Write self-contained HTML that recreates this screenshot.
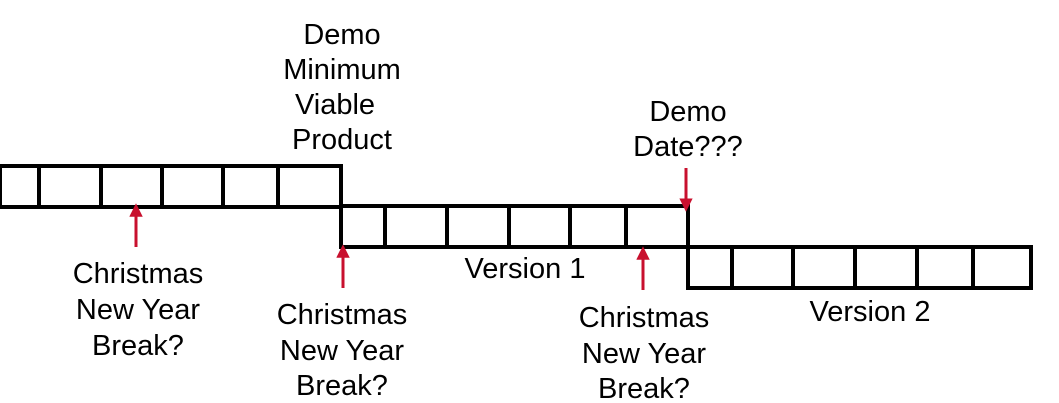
<!DOCTYPE html>
<html><head><meta charset="utf-8"><style>
html,body{margin:0;padding:0;background:#fff;}
svg{display:block;}
text{font-family:"Liberation Sans",Arial,sans-serif;font-size:29px;fill:#000;text-anchor:middle;}
</style></head><body>
<svg id="chart" width="1059" height="403" viewBox="0 0 1059 403">
<defs>
<marker id="ah" viewBox="0 0 10 10" refX="5" refY="5" markerWidth="4.5" markerHeight="4.5" orient="auto-start-reverse"><path d="M0,0 L10,5 L0,10 z" fill="#c8102e"/></marker>
</defs>
<g id="boxes"></g>
<g id="arrows"></g>
<g>
<text x="342" y="44">Demo</text><text x="342" y="79">Minimum</text><text x="335" y="114">Viable</text><text x="342" y="149">Product</text></g>
<g>
<text x="688" y="121">Demo</text><text x="688" y="156">Date???</text></g>
<g>
<text x="138" y="283">Christmas</text><text x="138" y="319">New Year</text><text x="138" y="355">Break?</text></g>
<g>
<text x="342" y="324">Christmas</text><text x="342" y="360">New Year</text><text x="342" y="395">Break?</text></g>
<g>
<text x="644" y="327">Christmas</text><text x="644" y="363">New Year</text><text x="644" y="398">Break?</text></g>
<text x="525" y="278">Version 1</text>
<text x="870" y="321">Version 2</text>
</svg>
<script>
const rowEdges = [[0,39,101,162,223,278,341],[341,385,447,509,570,626,688],[688,732,793,855,917,973,1031]];
const rowTops = [166,206,247];
const rowH = 41;
const arrowX = [136,343,643,686];
const arrowDir = ['up','up','up','down'];
const arrowY = [[247,210],[288,251],[290,253],[168,205]];
const NS='http://www.w3.org/2000/svg';
const bg=document.getElementById('boxes');
rowEdges.forEach((edges,r)=>{
  for(let i=0;i<edges.length-1;i++){
    const rc=document.createElementNS(NS,'rect');
    rc.setAttribute('x',edges[i]);rc.setAttribute('y',rowTops[r]);
    rc.setAttribute('width',edges[i+1]-edges[i]);rc.setAttribute('height',rowH);
    rc.setAttribute('fill','#fff');rc.setAttribute('stroke','#000');rc.setAttribute('stroke-width','4');
    
    
    bg.appendChild(rc);
  }
});
const ag=document.getElementById('arrows');
arrowX.forEach((x,i)=>{
  const l=document.createElementNS(NS,'line');
  l.setAttribute('x1',x);l.setAttribute('x2',x);
  l.setAttribute('y1',arrowY[i][0]);l.setAttribute('y2',arrowY[i][1]);
  l.setAttribute('stroke','#c8102e');l.setAttribute('stroke-width','3');
  l.setAttribute('marker-end','url(#ah)');
  
  
  ag.appendChild(l);
});
</script>
</body></html>
